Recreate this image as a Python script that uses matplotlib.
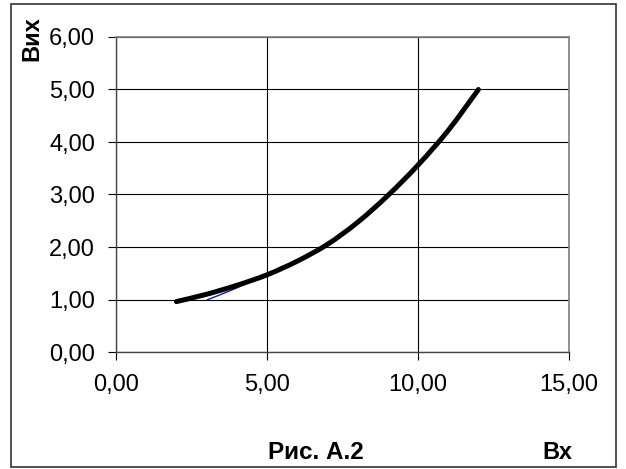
import matplotlib
matplotlib.use("Agg")
import matplotlib.pyplot as plt
from matplotlib.patches import Rectangle, PathPatch
from matplotlib.path import Path
from matplotlib.ticker import FixedLocator, FuncFormatter

# Main characteristic (Вих vs Вх)
vx = [2, 3, 4, 5, 6, 7, 8, 9, 10, 11, 12]
vyx = [0.96, 1.10, 1.27, 1.47, 1.73, 2.05, 2.47, 2.98, 3.56, 4.22, 5.00]

# Secondary series, mostly hidden under the main curve
vx2 = [3.0, 4.0, 5.0, 5.6]
vyx2 = [0.99, 1.22, 1.49, 1.65]

x_ticks = [0, 5, 10, 15]
y_ticks = [0, 1, 2, 3, 4, 5, 6]

plt.rcParams["font.family"] = ["Liberation Sans", "DejaVu Sans"]


def smooth_path(xs, ys):
    """Cubic Bezier path through the points (Catmull-Rom style smoothing)."""
    pts = list(zip(xs, ys))
    n = len(pts)
    verts = [pts[0]]
    codes = [Path.MOVETO]
    for i in range(n - 1):
        p0 = pts[i - 1] if i > 0 else pts[i]
        p1 = pts[i]
        p2 = pts[i + 1]
        p3 = pts[i + 2] if i + 2 < n else pts[i + 1]
        c1 = (p1[0] + (p2[0] - p0[0]) / 6, p1[1] + (p2[1] - p0[1]) / 6)
        c2 = (p2[0] - (p3[0] - p1[0]) / 6, p2[1] - (p3[1] - p1[1]) / 6)
        verts += [c1, c2, p2]
        codes += [Path.CURVE4] * 3
    return Path(verts, codes)


fig = plt.figure(figsize=(6.26, 4.69), dpi=100)

# outer chart frame
fig.patches.append(Rectangle((11 / 626, 1 - 467 / 469), 605 / 626, 463 / 469,
                             transform=fig.transFigure, fill=False,
                             edgecolor="#333333", linewidth=1.2))

ax = fig.add_axes([116 / 626, 1 - 352 / 469, 453 / 626, 315 / 469])
ax.set_xlim(0, 15)
ax.set_ylim(0, 6)

ax.add_patch(PathPatch(smooth_path(vx2, vyx2), facecolor="none",
                       edgecolor="#1a1a8c", linewidth=1.0, zorder=3))
ax.add_patch(PathPatch(smooth_path(vx, vyx), facecolor="none",
                       edgecolor="black", linewidth=3.6, capstyle="round",
                       joinstyle="round", zorder=4))

ax.xaxis.set_major_locator(FixedLocator(x_ticks))
ax.yaxis.set_major_locator(FixedLocator(y_ticks))
fmt = FuncFormatter(lambda v, p: f"{v:.2f}".replace(".", ","))
ax.xaxis.set_major_formatter(fmt)
ax.yaxis.set_major_formatter(fmt)

ax.grid(True, color="black", linewidth=0.8)
ax.set_axisbelow(True)
ax.tick_params(axis="both", direction="out", length=6, width=0.8,
               labelsize=17, colors="black")
ax.tick_params(axis="y", pad=9)
ax.tick_params(axis="x", pad=10)

for side in ("top", "right"):
    ax.spines[side].set_color("#808080")
    ax.spines[side].set_linewidth(1.2)
for side in ("left", "bottom"):
    ax.spines[side].set_color("#444444")
    ax.spines[side].set_linewidth(1.0)

fig.text(32 / 626, 1 - 39 / 469, "Вих", rotation=90, fontsize=17,
         fontweight="bold", ha="center", va="center")
fig.text(316 / 626, 1 - 452 / 469, "Рис. А.2", fontsize=17.5,
         fontweight="bold", ha="center", va="center")
fig.text(557 / 626, 1 - 452 / 469, "Вх", fontsize=17,
         fontweight="bold", ha="center", va="center")

fig.savefig("out.png", dpi=100)
